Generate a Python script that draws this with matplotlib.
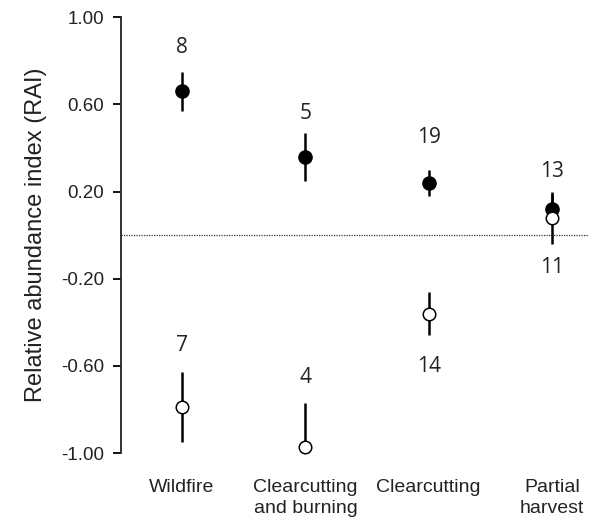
import numpy as np
import matplotlib.pyplot as plt

categories = ["Wildfire", "Clearcutting\nand burning", "Clearcutting", "Partial\nharvest"]

# filled circles (positive association) and open circles (negative association)
filled_mean = [0.66, 0.36, 0.24, 0.12]
filled_err = [0.09, 0.11, 0.06, 0.07]
filled_n = ["8", "5", "19", "13"]

open_mean = [-0.79, -0.97, -0.36, 0.08]
open_err = [0.16, 0.20, 0.10, 0.12]
open_n = ["7", "4", "14", "11"]

# where the sample-size labels sit (y centre, data units)
filled_n_y = [0.86, 0.56, 0.45, 0.29]
open_n_y = [-0.505, -0.655, -0.605, -0.15]

plt.rcParams["font.family"] = ["Liberation Sans", "DejaVu Sans"]

fig = plt.figure(figsize=(5.89, 5.19), dpi=100)
ax = fig.add_axes([0.2055, 0.127, 0.7945, 0.840])

x = np.arange(1, len(categories) + 1)

# =========================
# ERROR BARS + POINTS
# =========================
ax.errorbar(x, filled_mean, yerr=filled_err, fmt="none", ecolor="black",
            elinewidth=1.8, capsize=0, zorder=2)
ax.errorbar(x, open_mean, yerr=open_err, fmt="none", ecolor="black",
            elinewidth=1.8, capsize=0, zorder=2)

ax.plot(x, filled_mean, "o", color="black", markersize=9.5, zorder=3, clip_on=False)
ax.plot(x, open_mean, "o", markerfacecolor="white", markeredgecolor="black",
        markeredgewidth=1.1, markersize=9.0, zorder=4, clip_on=False)

# sample size labels
n_font = ["Open Sans", "DejaVu Sans"]
for xi, yi, n in zip(x, filled_n_y, filled_n):
    ax.text(xi, yi, n, ha="center", va="center", fontsize=15, color="#222222", family=n_font)
for xi, yi, n in zip(x, open_n_y, open_n):
    ax.text(xi, yi, n, ha="center", va="center", fontsize=15, color="#222222", family=n_font)

# zero line
ax.axhline(0, color="#333333", linestyle=(0, (1, 1)), linewidth=0.9, zorder=1)

# =========================
# AXES
# =========================
ax.set_xlim(0.505, 4.30)
ax.set_ylim(-1.0, 1.0)
ax.set_yticks([-1.0, -0.6, -0.2, 0.2, 0.6, 1.0])
ax.set_yticklabels(["-1.00", "-0.60", "-0.20", "0.20", "0.60", "1.00"],
                   fontsize=13.5, color="#222222")
ax.set_xticks(x)
ax.set_xticklabels(categories, fontsize=14, linespacing=1.3, color="#222222")
ax.tick_params(axis="x", length=0, pad=19)
ax.tick_params(axis="y", direction="out", length=6, width=1.3, pad=6)

for side in ["top", "right", "bottom"]:
    ax.spines[side].set_visible(False)
ax.spines["left"].set_linewidth(1.3)
ax.spines["left"].set_color("#222222")

ax.set_ylabel("Relative abundance index (RAI)", fontsize=17, labelpad=10, color="#222222")

fig.savefig("out.png", dpi=100)
